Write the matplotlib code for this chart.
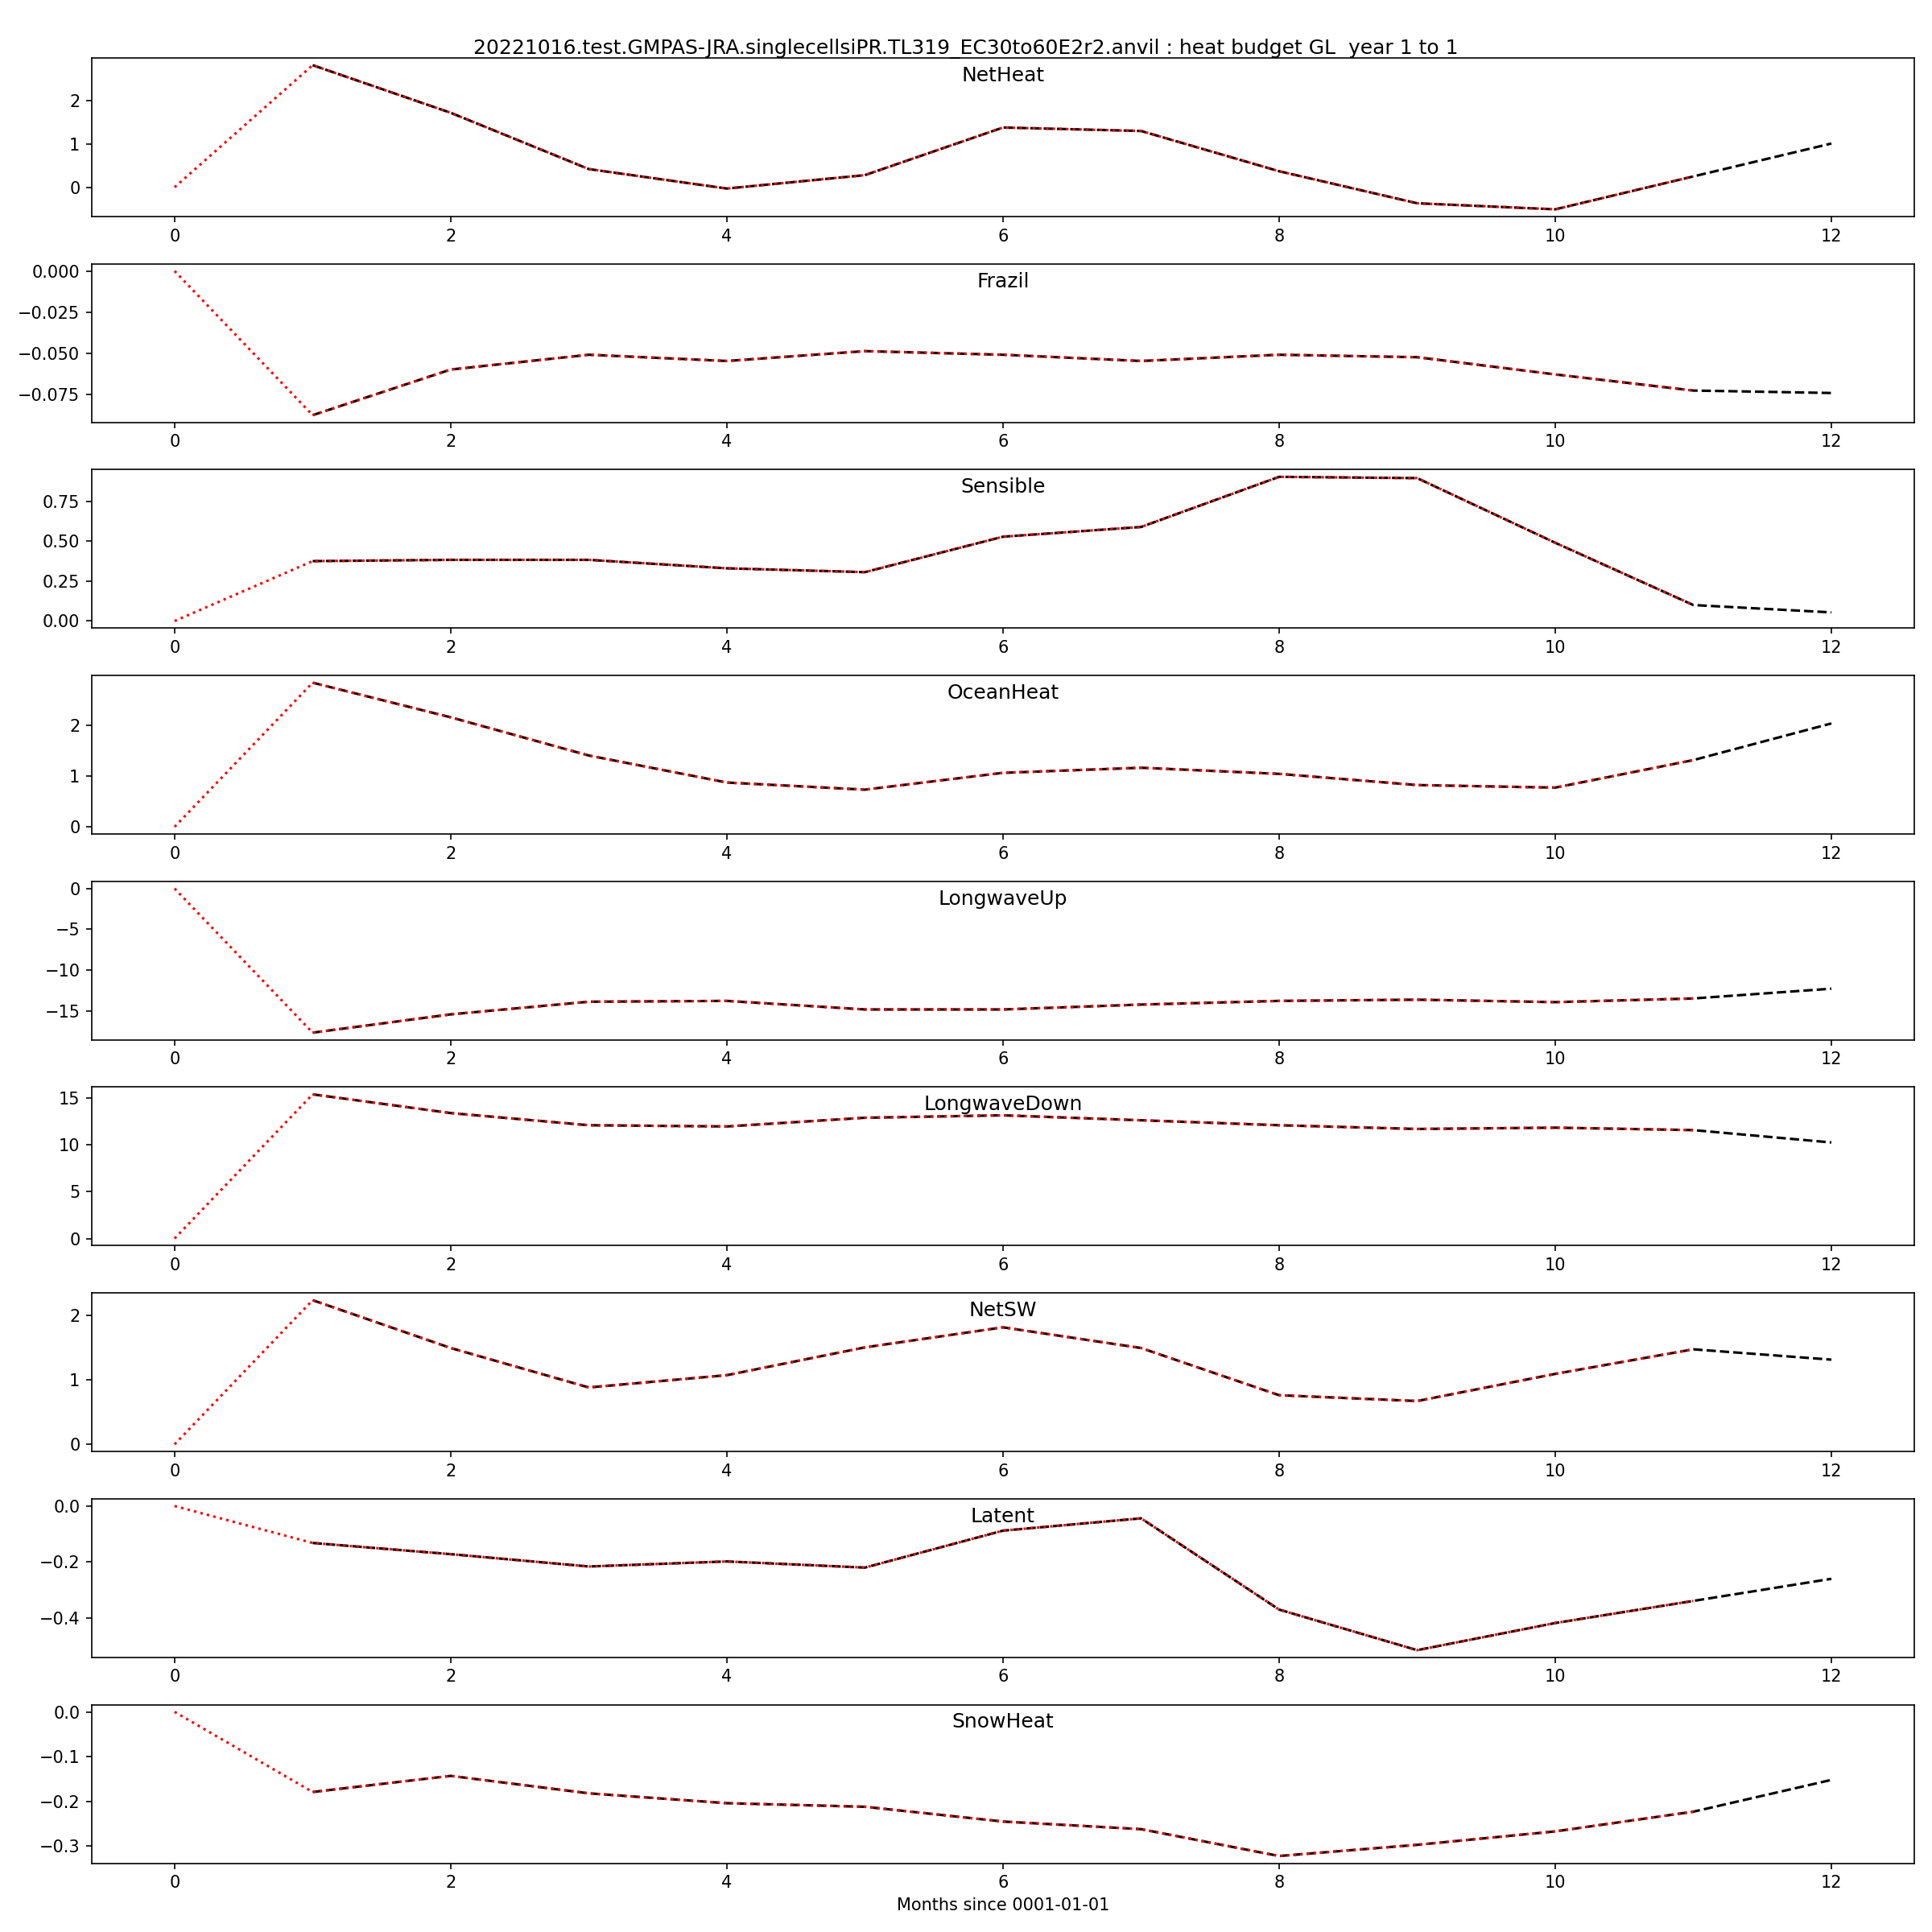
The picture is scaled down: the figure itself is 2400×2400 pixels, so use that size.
"""
Monthly global heat budget terms for a single-cell test run.
Each panel: current month (black dashed) vs previous month shifted (red dotted).
"""
import matplotlib
matplotlib.use("Agg")
import matplotlib.pyplot as plt
import numpy as np

OUTPUT = "out.png"

run_name = "20221016.test.GMPAS-JRA.singlecellsiPR.TL319_EC30to60E2r2.anvil"
region = "GL"
year_start, year_end = 1, 1

# months 1..12
months = np.arange(1, 13)

net_heat = [2.82, 1.72, 0.42, -0.03, 0.28, 1.38, 1.30, 0.37, -0.37, -0.51, 0.25, 1.01]
frazil = [-0.0878, -0.0600, -0.0510, -0.0548, -0.0488, -0.0510, -0.0548, -0.0510,
          -0.0525, -0.0630, -0.0728, -0.0743]
sensible = [0.375, 0.383, 0.383, 0.330, 0.306, 0.528, 0.589, 0.903, 0.895, 0.490, 0.100, 0.054]
ocean_heat = [2.83, 2.15, 1.40, 0.87, 0.73, 1.06, 1.16, 1.04, 0.82, 0.77, 1.31, 2.03]
longwave_up = [-17.7, -15.45, -13.9, -13.8, -14.85, -14.85, -14.25, -13.8, -13.65, -13.95,
               -13.5, -12.3]
longwave_down = [15.4, 13.4, 12.1, 11.97, 12.9, 13.16, 12.63, 12.1, 11.7, 11.84, 11.58, 10.26]
net_sw = [2.23, 1.49, 0.88, 1.07, 1.50, 1.81, 1.49, 0.76, 0.67, 1.09, 1.47, 1.31]
latent = [-0.132, -0.172, -0.216, -0.198, -0.220, -0.088, -0.044, -0.370, -0.515, -0.418,
          -0.339, -0.260]
snow_heat = [-0.179, -0.143, -0.182, -0.204, -0.212, -0.245, -0.262, -0.322, -0.297, -0.267,
             -0.223, -0.152]

var_names = ["NetHeat", "Frazil", "Sensible", "OceanHeat", "LongwaveUp",
             "LongwaveDown", "NetSW", "Latent", "SnowHeat"]
var_values = [net_heat, frazil, sensible, ocean_heat, longwave_up,
              longwave_down, net_sw, latent, snow_heat]

# --- Plot ---
fig, axes = plt.subplots(len(var_names), 1, figsize=(16, 16))
fig.subplots_adjust(left=0.0475, right=0.9908, top=0.97, bottom=0.0356, hspace=0.298)

for ax, name, vals in zip(axes, var_names, var_values):
    vals = np.asarray(vals)
    # previous-month series starts from zero at month 0
    prev = np.concatenate([[0.0], vals[:-1]])
    ax.plot(months, vals, "k--", linewidth=1.5)
    ax.plot(months - 1, prev, "r:", linewidth=1.5)
    ax.set_title(name, y=0.79)

axes[-1].set_xlabel("Months since 0001-01-01")
fig.suptitle(f"{run_name} : heat budget {region}  year {year_start} to {year_end}")

fig.savefig(OUTPUT, dpi=150)
print(f"Saved: {OUTPUT}")
plt.close()
